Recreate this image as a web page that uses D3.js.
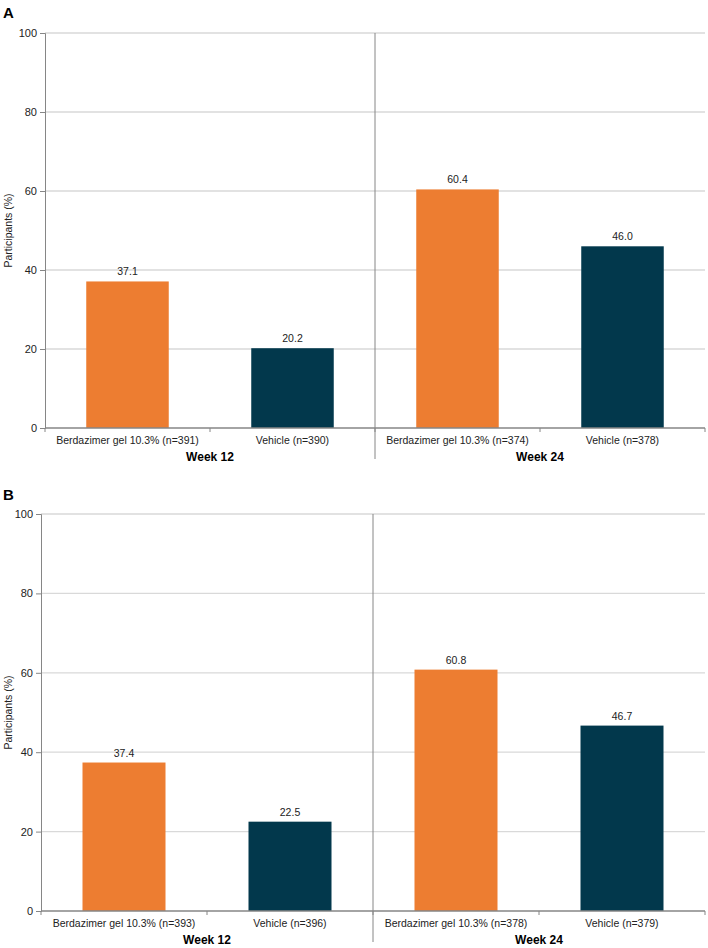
<!DOCTYPE html>
<html>
<head>
<meta charset="utf-8">
<script src="https://cdn.jsdelivr.net/npm/d3@7"></script>
<style>
  html, body { margin: 0; padding: 0; background: #fff; }
  svg { display: block; font-family: "Liberation Sans", Arial, sans-serif; }
</style>
</head>
<body>
<svg id="chart" width="708" height="948"></svg>
<script>
// ---- Data ----
const weeks = ["Week 12", "Week 24"];
const armNames = ["Berdazimer gel 10.3%", "Vehicle"];
const yTicks = [0, 20, 40, 60, 80, 100];

const panelA_n = [391, 390, 374, 378];
const panelA_values = [37.1, 20.2, 60.4, 46.0];

const panelB_n = [393, 396, 378, 379];
const panelB_values = [37.4, 22.5, 60.8, 46.7];

const colors = ["#ED7D31", "#02384C"];

const panels = [
  { letter: "A", n: panelA_n, values: panelA_values, left: 45, right: 705, top: 33, bottom: 428, letterY: 18 },
  { letter: "B", n: panelB_n, values: panelB_values, left: 41, right: 705, top: 514, bottom: 911, letterY: 500 }
];

const svg = d3.select("#chart");

panels.forEach(p => {
  const g = svg.append("g");
  const keys = d3.range(4);
  const x = d3.scaleBand().domain(keys).range([p.left, p.right]).paddingInner(0.5).paddingOuter(0.25);
  const y = d3.scaleLinear().domain([0, 100]).range([p.bottom, p.top]);

  // panel letter
  g.append("text").attr("x", 3).attr("y", p.letterY)
    .attr("font-size", 15).attr("font-weight", "bold").attr("fill", "#000").text(p.letter);

  // gridlines
  g.selectAll(".grid").data(yTicks.filter(t => t > 0)).enter().append("line")
    .attr("x1", p.left).attr("x2", p.right)
    .attr("y1", d => y(d)).attr("y2", d => y(d))
    .attr("stroke", "#D9D9D9").attr("stroke-width", 1.3);

  // y axis
  const yAxis = d3.axisLeft(y).tickValues(yTicks).tickSize(5).tickPadding(3);
  const ya = g.append("g").attr("transform", `translate(${p.left},0)`).call(yAxis);
  ya.select(".domain").attr("stroke", "#868686");
  ya.selectAll(".tick line").attr("stroke", "#868686");
  ya.selectAll(".tick text").attr("font-size", 11).attr("fill", "#222")
    .attr("font-family", "'Liberation Sans', Arial, sans-serif");

  // y label
  g.append("text")
    .attr("transform", `translate(12,${(p.top + p.bottom) / 2}) rotate(-90)`)
    .attr("text-anchor", "middle").attr("font-size", 10.5).attr("fill", "#222")
    .text("Participants (%)");

  // bars
  g.selectAll(".bar").data(p.values).enter().append("rect")
    .attr("x", (d, i) => x(i)).attr("width", x.bandwidth())
    .attr("y", d => y(d)).attr("height", d => y(0) - y(d))
    .attr("fill", (d, i) => colors[i % 2]);

  // value labels
  g.selectAll(".val").data(p.values).enter().append("text")
    .attr("x", (d, i) => x(i) + x.bandwidth() / 2)
    .attr("y", d => y(d) - 6)
    .attr("text-anchor", "middle").attr("font-size", 10.5).attr("fill", "#222")
    .text(d => d.toFixed(1));

  // bottom axis line
  g.append("line").attr("x1", p.left).attr("x2", p.right)
    .attr("y1", p.bottom).attr("y2", p.bottom)
    .attr("stroke", "#868686").attr("stroke-width", 1.3);

  // bottom ticks at band boundaries
  const step = x.step();
  const boundaries = d3.range(5).map(i => p.left + i * step);
  g.selectAll(".btick").data(boundaries).enter().append("line")
    .attr("x1", d => d).attr("x2", d => d)
    .attr("y1", p.bottom).attr("y2", p.bottom + 4)
    .attr("stroke", "#868686");

  // separator between weeks
  const sepX = p.left + 2 * step;
  g.append("line").attr("x1", sepX).attr("x2", sepX)
    .attr("y1", p.top).attr("y2", p.bottom + 31)
    .attr("stroke", "#868686").attr("stroke-width", 1);

  // category labels
  g.selectAll(".cat").data(p.n).enter().append("text")
    .attr("x", (d, i) => x(i) + x.bandwidth() / 2)
    .attr("y", p.bottom + 16)
    .attr("text-anchor", "middle").attr("font-size", 10.5).attr("fill", "#222")
    .text((d, i) => `${armNames[i % 2]} (n=${d})`);

  // week labels
  g.selectAll(".week").data(weeks).enter().append("text")
    .attr("x", (d, i) => p.left + (2 * i + 1) * step)
    .attr("y", p.bottom + 33)
    .attr("text-anchor", "middle").attr("font-size", 12).attr("font-weight", "bold").attr("fill", "#000")
    .text(d => d);
});
</script>
</body>
</html>
